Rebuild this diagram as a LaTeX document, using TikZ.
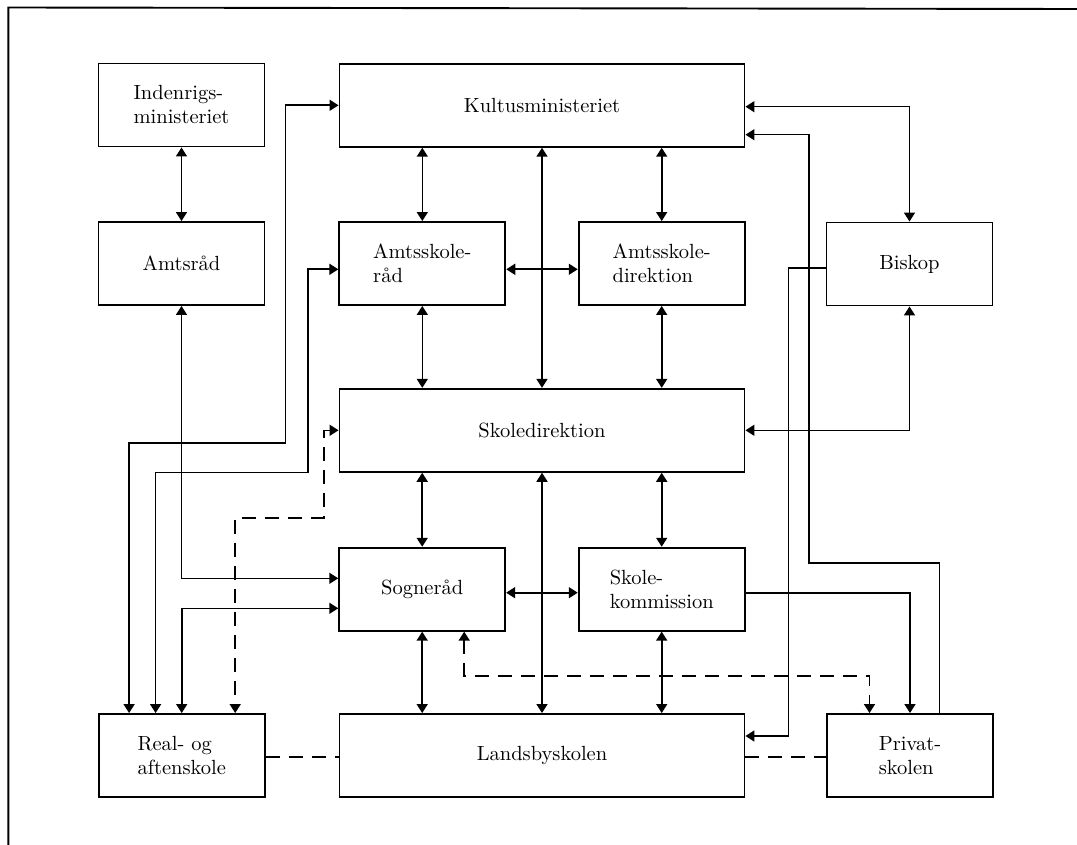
\documentclass[tikz,border=0pt]{standalone}
\usepackage{fontspec}
\setmainfont{lmroman10-regular.otf}
\usetikzlibrary{arrows.meta}
\begin{document}
\begin{tikzpicture}[x=1pt,y=-1pt,
  box/.style={draw,line width=1.9pt,inner sep=0pt,minimum width=166pt,minimum height=83pt,align=left,font=\fontsize{20.5}{24}\selectfont},
  wide/.style={box,minimum width=405pt},
  conn/.style={line width=1.6pt,{Triangle[length=9pt,width=11pt]}-{Triangle[length=9pt,width=11pt]}},
  oneway/.style={line width=1.6pt,-{Triangle[length=9pt,width=11pt]}},
  dsh/.style={dash pattern=on 14pt off 9pt}]
\useasboundingbox (0,0) rectangle (1077,845);
% frame
\coordinate (f0) at (8.3,7.5);
\coordinate (f1) at (1077,9);
\coordinate (f2) at (8.3,845);
\draw[line width=1.9pt] (f1) -- (f0) -- (f2);
% boxes
\node[box]  (indr) at (181.5,105)   {Indenrigs-\\ministeriet};
\node[wide] (kult) at (542,105.3)   {Kultusministeriet};
\node[box]  (amtr) at (181.5,263.5) {Amtsråd};
\node[box]  (asr)  at (422.3,263.5) {Amtsskole-\\råd};
\node[box]  (asd)  at (661.7,263.5) {Amtsskole-\\direktion};
\node[box]  (bisk) at (909.5,264)   {Biskop};
\node[wide] (sdir) at (542,430.3)   {Skoledirektion};
\node[box]  (sogn) at (422.2,589.2) {Sogneråd};
\node[box]  (skom) at (661.7,589.2) {Skole-\\kommission};
\node[box]  (real) at (181.7,755.5) {Real- og\\aftenskole};
\node[wide] (land) at (542,755.5)   {Landsbyskolen};
\node[box]  (priv) at (910,755.5)   {Privat-\\skolen};
% vertical two-way arrows
\draw[conn] (indr.south) -- (amtr.north);
\draw[conn] (asr.north |- kult.south) -- (asr.north);
\draw[conn] (asd.north |- kult.south) -- (asd.north);
\draw[conn] (kult.south) -- (sdir.north);
\draw[conn] (asr.south) -- (asr.south |- sdir.north);
\draw[conn] (asd.south) -- (asd.south |- sdir.north);
\draw[conn] (sogn.north |- sdir.south) -- (sogn.north);
\draw[conn] (skom.north |- sdir.south) -- (skom.north);
\draw[conn] (sdir.south) -- (land.north);
\draw[conn] (sogn.south) -- (sogn.south |- land.north);
\draw[conn] (skom.south) -- (skom.south |- land.north);
% horizontal two-way arrows
\draw[conn] ([yshift=-5.8pt]asr.east) -- ([yshift=-5.8pt]asd.west);
\draw[conn] ([yshift=-3.5pt]sogn.east) -- ([yshift=-3.5pt]skom.west);
% right side
\draw[conn] ([yshift=-1.4pt]kult.east) -| (bisk.north);
\draw[conn] (sdir.east) -| (bisk.south);
\coordinate (p1) at (939.3,562.7);
\coordinate (p2) at (808.8,562.7);
\coordinate (p3) at (808.8,134.7);
\draw[oneway] (p1 |- priv.north) -- (p1) -- (p2) -- (p3) -- (p3 -| kult.east);
\coordinate (b1) at (788.3,736);
\draw[oneway] ([yshift=-4.3pt]bisk.west) -| (b1) -- (b1 -| land.east);
\draw[oneway] ([yshift=-3.5pt]skom.east) -| (priv.north);
\coordinate (d1) at (464.2,675.7);
\coordinate (d2) at (869.5,675.7);
\draw[conn,dsh] (d1 |- sogn.south) -- (d1) -- (d2) -- (d2 |- priv.north);
% left side
\coordinate (r1) at (285.5,442.7);
\coordinate (r1b) at (129.1,442.7);
\draw[conn] (kult.west) -| (r1) -- (r1b) -- (r1b |- real.north);
\coordinate (r2) at (308.2,472.3);
\coordinate (r2b) at (155.6,472.3);
\draw[conn] ([yshift=-5.8pt]asr.west) -| (r2) -- (r2b) -- (r2b |- real.north);
\coordinate (s1) at (181.5,578.3);
\draw[conn] (amtr.south) -- (s1) -- (s1 -| sogn.west);
\coordinate (s2) at (181.7,608.3);
\draw[conn] (real.north) -- (s2) -- (s2 -| sogn.west);
\coordinate (q1) at (323.7,517.7);
\coordinate (q2) at (235.2,517.7);
\draw[conn,dsh] (sdir.west) -| (q1) -- (q2) -- (q2 |- real.north);
% dashed plain links
\draw[line width=1.6pt,dsh] ([yshift=-1.2pt]real.east) -- ([yshift=-1.2pt]land.west);
\draw[line width=1.6pt,dsh] ([yshift=-1.2pt]land.east) -- ([yshift=-1.2pt]priv.west);
\end{tikzpicture}
\end{document}
